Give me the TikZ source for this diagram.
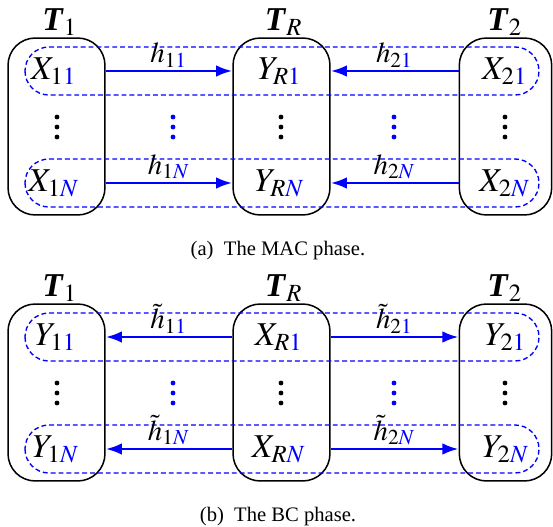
\documentclass[tikz,border=0pt]{standalone}
\usepackage{mathptmx}
\usepackage{fontspec}
\setmainfont{Liberation Serif}
\usepackage{tikz}
\usetikzlibrary{arrows.meta}

\tikzset{
	tbox/.style={draw, rounded corners=9pt, minimum width=32pt, minimum height=58.4pt, inner sep=0pt, line width=0.5pt},
	dbox/.style={draw=blue, line width=0.45pt, dash pattern=on 1.6pt off 1pt, rounded corners=7.9pt},
	harrow/.style={blue, line width=0.85pt, -{Latex[length=5.3pt, width=3.8pt]}},
	hlabel/.style={above, inner sep=0.8pt, text=black, font=\fontsize{9.5}{11}\selectfont},
	caplabel/.style={font=\fontsize{6.8}{8}\selectfont}
}
\newcommand{\bl}[1]{\textcolor{blue}{#1}}

\begin{document}
\begin{tikzpicture}[x=0.33pt, y=-0.33pt, font=\fontsize{11}{13}\selectfont]
		\useasboundingbox (0,0) rectangle (553,527);
		% the MAC phase
		\begin{scope}
			\node [tbox] (t1a) at (56.5,126.5) {};
			\node [tbox] (tra) at (281.5,126.5) {};
			\node [tbox, minimum width=30.5pt] (t2a) at (505.5,126.5) {};
			\draw [dbox] (25,47) rectangle (539,95);
			\draw [dbox] (25,159) rectangle (539,207);
			\node (lt1a) at (60,22) {$\textbf{\textit{T}}_1$};
			\node (ltra) at (284,22) {$\textbf{\textit{T}}_R$};
			\node (lt2a) at (505,22) {$\textbf{\textit{T}}_2$};
			\node (x11) at (54,71) {$X_{1\bl{1}}$};
			\node (yr1) at (280,71) {$Y_{R\bl{1}}$};
			\node (x21) at (505,71) {$X_{2\bl{1}}$};
			\node (x1n) at (54,183) {$X_{1\bl{N}}$};
			\node (yrn) at (280,183) {$Y_{R\bl{N}}$};
			\node (x2n) at (505,183) {$X_{2\bl{N}}$};
			\coordinate (d1a) at (57,127);
			\coordinate (dra) at (281,127);
			\coordinate (d2a) at (505,127);
			\coordinate (dha) at (173,127);
			\coordinate (dga) at (394,127);
			\foreach \dy in {-10,0,10} {
				\fill (d1a) ++(0,\dy) circle (0.8pt);
				\fill (dra) ++(0,\dy) circle (0.8pt);
				\fill (d2a) ++(0,\dy) circle (0.8pt);
				\fill [blue] (dha) ++(0,\dy) circle (0.8pt);
				\fill [blue] (dga) ++(0,\dy) circle (0.8pt);
			}
			\draw [harrow] (x11 -| t1a.east) -- (x11 -| tra.west) node [hlabel, midway] {$h_{1\bl{1}}$};
			\draw [harrow] (x21 -| t2a.west) -- (x21 -| tra.east) node [hlabel, midway] {$h_{2\bl{1}}$};
			\draw [harrow] (x1n -| t1a.east) -- (x1n -| tra.west) node [hlabel, midway] {$h_{1\bl{N}}$};
			\draw [harrow] (x2n -| t2a.west) -- (x2n -| tra.east) node [hlabel, midway] {$h_{2\bl{N}}$};
			\node [caplabel] (capa) at (278,251) {(a)~~The MAC phase.};
		\end{scope}
		% the BC phase
		\begin{scope}[shift={(0,266)}]
			\node [tbox] (t1b) at (56.5,126.5) {};
			\node [tbox] (trb) at (281.5,126.5) {};
			\node [tbox, minimum width=30.5pt] (t2b) at (505.5,126.5) {};
			\draw [dbox] (25,47) rectangle (539,95);
			\draw [dbox] (25,159) rectangle (539,207);
			\node (lt1b) at (60,22) {$\textbf{\textit{T}}_1$};
			\node (ltrb) at (284,22) {$\textbf{\textit{T}}_R$};
			\node (lt2b) at (505,22) {$\textbf{\textit{T}}_2$};
			\node (y11) at (56,71) {$Y_{1\bl{1}}$};
			\node (xr1) at (279,71) {$X_{R\bl{1}}$};
			\node (y21) at (506,71) {$Y_{2\bl{1}}$};
			\node (y1n) at (56,183) {$Y_{1\bl{N}}$};
			\node (xrn) at (279,183) {$X_{R\bl{N}}$};
			\node (y2n) at (506,183) {$Y_{2\bl{N}}$};
			\coordinate (d1b) at (57,127);
			\coordinate (drb) at (281,127);
			\coordinate (d2b) at (505,127);
			\coordinate (dhb) at (173,127);
			\coordinate (dgb) at (394,127);
			\foreach \dy in {-10,0,10} {
				\fill (d1b) ++(0,\dy) circle (0.8pt);
				\fill (drb) ++(0,\dy) circle (0.8pt);
				\fill (d2b) ++(0,\dy) circle (0.8pt);
				\fill [blue] (dhb) ++(0,\dy) circle (0.8pt);
				\fill [blue] (dgb) ++(0,\dy) circle (0.8pt);
			}
			\draw [harrow] (xr1 -| trb.west) -- (xr1 -| t1b.east) node [hlabel, midway] {$\tilde{h}_{1\bl{1}}$};
			\draw [harrow] (xr1 -| trb.east) -- (xr1 -| t2b.west) node [hlabel, midway] {$\tilde{h}_{2\bl{1}}$};
			\draw [harrow] (xrn -| trb.west) -- (xrn -| t1b.east) node [hlabel, midway] {$\tilde{h}_{1\bl{N}}$};
			\draw [harrow] (xrn -| trb.east) -- (xrn -| t2b.west) node [hlabel, midway] {$\tilde{h}_{2\bl{N}}$};
			\node [caplabel] (capb) at (278,251) {(b)~~The BC phase.};
		\end{scope}
	\end{tikzpicture}
\end{document}
